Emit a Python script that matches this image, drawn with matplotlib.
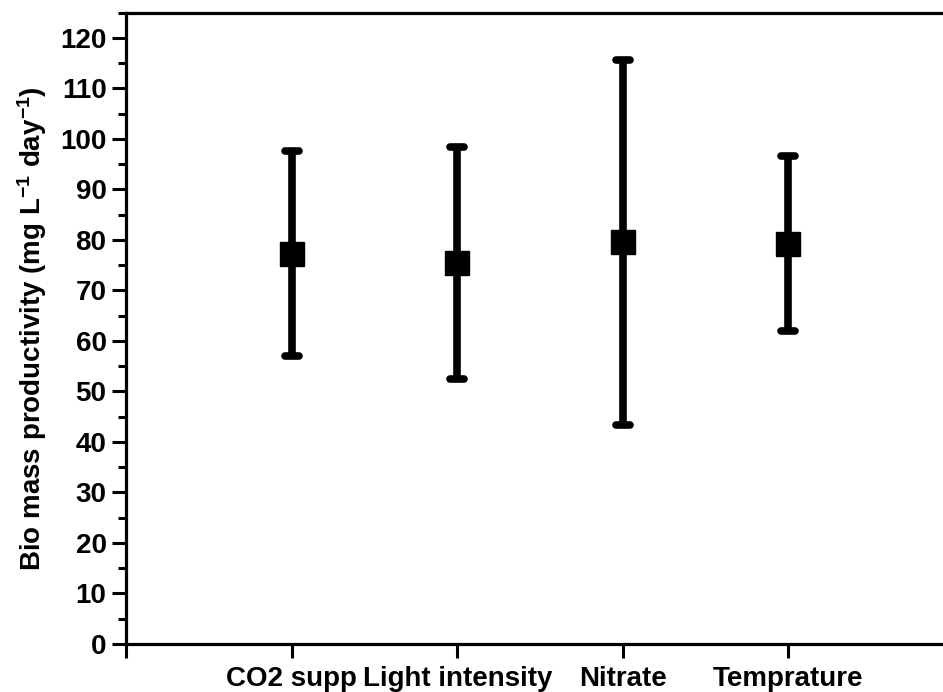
import matplotlib
matplotlib.use("Agg")
import matplotlib.pyplot as plt
from matplotlib.markers import MarkerStyle
from matplotlib.ticker import MultipleLocator, FixedLocator

categories = ["CO2 supp", "Light intensity", "Nitrate", "Temprature"]
means = [77.3, 75.4, 79.6, 79.3]
lower = [57.0, 52.5, 43.3, 62.0]
upper = [97.6, 98.4, 115.6, 96.7]
yticks = [0, 10, 20, 30, 40, 50, 60, 70, 80, 90, 100, 110, 120]

plt.rcParams['font.family'] = ['Liberation Sans', 'DejaVu Sans']
plt.rcParams['font.weight'] = 'bold'
plt.rcParams['mathtext.fontset'] = 'custom'
plt.rcParams['mathtext.rm'] = 'Liberation Sans:bold'
plt.rcParams['mathtext.bf'] = 'Liberation Sans:bold'
plt.rcParams['mathtext.default'] = 'bf'

W, H = 943, 692
fig = plt.figure(figsize=(W / 100, H / 100), dpi=100)
ax_left = 126 / W
ax_bottom = (H - 644) / H
ax_height = (644 - 12.7) / H
ax_width = 5 * 165.6 / W
ax = fig.add_axes([ax_left, ax_bottom, ax_width, ax_height])

x = list(range(1, len(categories) + 1))
yerr = [[m - l for m, l in zip(means, lower)], [u - m for m, u in zip(means, upper)]]
line, caps, bars = ax.errorbar(x, means, yerr=yerr, fmt='s', color='black',
                               markersize=17.5, elinewidth=5.5, capsize=5.3,
                               capthick=5.5, ecolor='black', zorder=3)
for c in caps:
    c.set_marker(MarkerStyle('_', capstyle='round'))

ax.set_xlim(0, 5)
ax.set_ylim(0, 125)
ax.xaxis.set_major_locator(FixedLocator([0] + x))
ax.set_xticklabels([''] + categories)
ax.yaxis.set_major_locator(FixedLocator(yticks))
ax.yaxis.set_minor_locator(MultipleLocator(5))

for s in ['left', 'bottom', 'top']:
    ax.spines[s].set_linewidth(2.3)
ax.spines['right'].set_visible(False)

ax.tick_params(axis='both', which='major', direction='out', length=10, width=2.2,
               labelsize=20, pad=4)
ax.tick_params(axis='y', which='minor', direction='out', length=6, width=2.2)
ax.tick_params(axis='x', which='major', pad=6)
for lab in ax.get_xticklabels() + ax.get_yticklabels():
    lab.set_fontweight('bold')

ax.set_ylabel(r'Bio mass productivity (mg L$^{-1}$ day$^{-1}$)', fontsize=20,
              fontweight='bold', labelpad=8)

fig.savefig('out.png', dpi=100)
